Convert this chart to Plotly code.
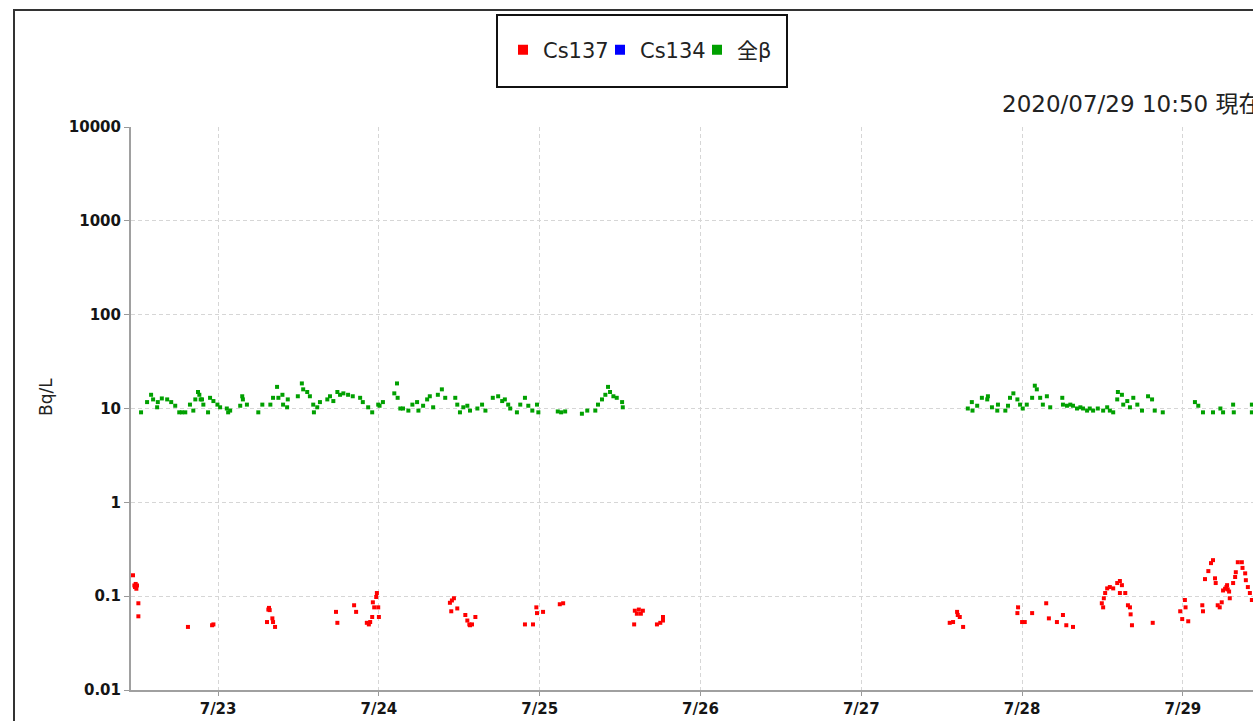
import pandas as pd
import plotly.graph_objects as go

base_time = pd.Timestamp("2020-07-22 00:00")

series_names = ["Cs137", "Cs134", "全β"]
series_colors = ["#ff0000", "#0000ff", "#00a000"]

# hours after 2020-07-22 00:00 and values (Bq/L)
cs137_hours = [11.3, 11.5, 11.6, 11.7, 11.8, 11.9, 12.1, 12.1, 19.5, 23.1, 23.3,
               31.3, 31.5, 31.6, 31.7, 32.1, 32.2, 32.5, 41.6, 41.8, 44.3, 44.6,
               46.2, 46.5, 46.7, 47.0, 47.1, 47.3, 47.6, 47.7, 47.9, 48.0,
               58.6, 58.8, 58.9, 59.2, 59.7, 60.9, 61.2, 61.5, 61.6, 61.9, 62.4,
               69.8, 71.0, 71.5, 71.6, 72.5, 75.0, 75.5,
               86.1, 86.2, 86.5, 86.8, 87.1, 87.4, 89.5, 90.0, 90.4, 90.4,
               133.2, 133.7, 134.3, 134.4, 134.7, 135.2,
               143.3, 143.4, 144.0, 144.4, 145.5, 147.6, 148.0, 149.2, 150.1, 150.6, 151.6,
               155.9, 156.1, 156.2, 156.4, 156.7, 157.1, 157.6, 158.2, 158.6, 158.9, 158.6,
               159.4, 159.8, 160.1, 160.2, 160.4, 163.5,
               167.6, 167.9, 168.3, 168.4, 168.8, 170.9, 171.0, 171.3, 171.8, 172.2, 172.5,
               172.8, 172.9, 173.2, 173.5, 173.8, 174.0, 174.3, 174.5, 174.6, 174.7, 174.9,
               175.0, 175.5, 175.8, 175.9, 176.2, 176.8, 176.9, 177.3, 177.4, 177.7, 178.0, 178.3]
cs137_values = [0.167, 0.13, 0.125, 0.135, 0.12, 0.13, 0.084, 0.061, 0.047, 0.049, 0.050,
                0.053, 0.072, 0.075, 0.071, 0.058, 0.053, 0.047, 0.068, 0.052, 0.080, 0.068,
                0.052, 0.050, 0.053, 0.060, 0.086, 0.076, 0.098, 0.108, 0.076, 0.060,
                0.085, 0.069, 0.09, 0.095, 0.074, 0.063, 0.055, 0.050, 0.049, 0.050, 0.060,
                0.050, 0.050, 0.076, 0.066, 0.068, 0.082, 0.084,
                0.050, 0.070, 0.065, 0.072, 0.065, 0.070, 0.050, 0.052, 0.055, 0.060,
                0.052, 0.053, 0.068, 0.063, 0.060, 0.047,
                0.066, 0.076, 0.053, 0.053, 0.066, 0.084, 0.058, 0.053, 0.063, 0.049, 0.047,
                0.084, 0.076, 0.095, 0.108, 0.121, 0.125, 0.121, 0.138, 0.145, 0.131, 0.108,
                0.108, 0.080, 0.076, 0.064, 0.049, 0.052,
                0.069, 0.057, 0.091, 0.076, 0.054, 0.080, 0.069, 0.152, 0.185, 0.225, 0.242,
                0.155, 0.138, 0.080, 0.076, 0.086, 0.115, 0.12, 0.125, 0.131, 0.118, 0.112,
                0.095, 0.138, 0.16, 0.18, 0.23, 0.23, 0.2, 0.175, 0.148, 0.125, 0.108, 0.091]

cs134_hours = []
cs134_values = []

beta_hours = [12.5, 13.4, 14.0, 14.3, 14.9, 15.0, 15.6, 16.4, 17.0, 17.6, 18.2, 18.6, 19.1,
              19.8, 20.3, 20.6, 21.0, 21.2, 21.4, 21.6, 21.8, 22.5, 22.8, 23.3, 23.9, 24.3,
              25.3, 25.5, 25.8, 27.3, 27.6, 27.7, 28.3, 30.0, 30.6, 31.8, 32.2, 32.8, 33.0,
              33.6, 33.7, 34.3, 34.4, 35.9, 36.5, 36.7, 37.3, 37.7, 38.2, 38.3, 38.8, 39.2,
              40.3, 40.7, 41.2, 41.8, 42.2, 42.7, 43.4, 44.1, 45.2, 45.6, 46.4, 47.0, 47.9,
              48.1, 48.6, 50.3, 50.7, 50.8, 51.2, 51.6, 52.4, 53.0, 53.7, 53.9, 54.6, 55.2,
              55.6, 56.1, 56.8, 57.4, 57.9, 59.4, 59.7, 60.1, 60.6, 61.2, 61.6, 62.7, 63.4,
              63.9, 65.0, 65.8, 66.4, 66.8, 67.3, 67.6, 68.6, 69.1, 69.8, 70.3, 70.9, 71.6,
              71.8, 74.7, 75.2, 75.8, 78.3, 79.1, 80.3, 80.7, 81.3, 81.8, 82.2, 82.5, 83.0,
              83.5, 84.3, 84.4,
              135.9, 136.5, 136.6, 137.3, 138.0, 138.8, 138.9, 139.5, 140.3, 140.4, 141.5,
              141.9, 142.2, 142.7, 143.3, 143.7, 144.1, 144.7, 145.5, 145.9, 146.2, 146.7,
              147.1, 147.7, 148.2, 150.0, 150.1, 150.7, 151.2, 151.6, 152.2, 152.7, 153.1,
              153.7, 154.1, 154.6, 155.3, 156.1, 156.7, 157.1, 157.6, 158.2, 158.3, 158.9,
              159.1, 159.7, 160.1, 160.6, 161.2, 161.9, 162.8, 163.4, 163.8, 165.0, 169.8,
              170.3, 171.0, 172.5, 173.6, 174.0, 175.5, 175.6, 178.3, 178.3]
beta_values = [9.1, 11.7, 14, 12.5, 10.3, 11.7, 12.8, 12.5, 11.7, 10.7, 9.1, 9.1, 9.1,
               11, 9.5, 12.5, 15, 14, 12.5, 12.5, 11, 9.1, 13, 12, 11, 10.3,
               10, 9.1, 9.5, 10.7, 13.5, 12.5, 11, 9.1, 11, 11, 13, 17, 13,
               14, 11, 10.3, 12.5, 13.5, 18.5, 16, 15, 13.5, 11, 9.1, 10.3, 11.7,
               12.5, 13.5, 12, 15, 14, 14.5, 14, 13.5, 13, 11.7, 10.3, 9.1, 11,
               10.7, 11.7, 14.5, 18.5, 13, 10, 10, 9.5, 11, 11.7, 9.5, 10.7, 12.5,
               13.5, 10.3, 14, 16, 13, 13, 11, 9.1, 10.3, 10.7, 9.5, 10, 11,
               9.5, 13, 13.5, 12, 12.5, 11, 10, 9.1, 11, 13, 10.7, 9.5, 11,
               9.1, 9.3, 9.1, 9.3, 8.8, 9.5, 9.5, 11, 12.5, 14, 17, 15, 13.5,
               13, 11.7, 10.3,
               10, 11.7, 9.5, 10.7, 13, 12.5, 13.5, 10.3, 9.5, 11, 9.5,
               10.7, 13, 14.5, 12.5, 11, 10, 11, 13, 17.5, 16, 13,
               11, 13.5, 10.3, 13, 11, 10.7, 11, 10.7, 10, 10.3, 10,
               9.5, 10, 9.5, 10, 9.5, 10.3, 9.5, 9.1, 12.5, 15, 14,
               11, 12, 10.3, 13, 11, 9.5, 13.5, 12.5, 9.5, 9.1, 11.7,
               10.7, 9.1, 9.1, 10, 9.1, 11, 9.1, 11, 9.1]

day_ticks = ["2020-07-23", "2020-07-24", "2020-07-25", "2020-07-26",
             "2020-07-27", "2020-07-28", "2020-07-29"]
day_labels = ["7/23", "7/24", "7/25", "7/26", "7/27", "7/28", "7/29"]
y_ticks = [0.01, 0.1, 1, 10, 100, 1000, 10000]
y_labels = ["0.01", "0.1", "1", "10", "100", "1000", "10000"]
x_start = "2020-07-22 11:00"
x_end = "2020-07-29 10:28"
y_title = "Bq/L"
stamp_text = "2020/07/29 10:50 現在"

FONT = "DejaVu Sans, Noto Sans CJK JP, sans-serif"
TXT = "#151515"


def to_time(hours):
    return base_time + pd.to_timedelta(hours, unit="h")


fig = go.Figure()
data_sets = [(cs137_hours, cs137_values), (cs134_hours, cs134_values), (beta_hours, beta_values)]
for name, color, (hrs, vals) in zip(series_names, series_colors, data_sets):
    fig.add_trace(go.Scatter(
        x=to_time(hrs), y=vals, mode="markers", name=name, showlegend=False,
        marker=dict(symbol="square", size=4, color=color, line=dict(width=0)),
        hoverinfo="x+y",
    ))
# legend entries
for name, color in zip(series_names, series_colors):
    fig.add_trace(go.Scatter(
        x=[None], y=[None], mode="markers", name=name, showlegend=True,
        marker=dict(symbol="square", size=10, color=color, line=dict(width=0)),
    ))

L, R, T, B = 131, 1253, 127, 690
W, H = 1253, 721


def px(xp):
    return (xp - L) / (R - L)


def py(yp):
    return (B - yp) / (B - T)


tick_font = dict(family=FONT, size=15, color=TXT, weight="bold")

fig.update_layout(
    width=W, height=H,
    margin=dict(l=L, r=W - R, t=T, b=H - B),
    paper_bgcolor="white", plot_bgcolor="white",
    font=dict(family=FONT, color=TXT, size=16),
    legend=dict(
        orientation="h", x=px(503), xanchor="left", y=py(50), yanchor="middle",
        font=dict(family=FONT, size=21, color="#222222"),
        bgcolor="rgba(0,0,0,0)", borderwidth=0, itemclick=False,
        entrywidth=52,
    ),
    xaxis=dict(
        type="date", range=[x_start, x_end],
        tickmode="array", tickvals=day_ticks, ticktext=day_labels,
        ticks="outside", ticklen=4, tickcolor="#999999", tickwidth=1,
        showline=True, linecolor="#a0a0a0", linewidth=2,
        showgrid=True, gridcolor="#d6d6d6", griddash="4px,3px", gridwidth=1,
        zeroline=False, tickfont=tick_font,
    ),
    yaxis=dict(
        type="log", range=[-2, 4],
        tickmode="array", tickvals=y_ticks, ticktext=y_labels,
        ticks="outside", ticklen=5, tickcolor="#999999", tickwidth=1,
        showline=True, linecolor="#a0a0a0", linewidth=2,
        showgrid=True, gridcolor="#d6d6d6", griddash="4px,3px", gridwidth=1,
        zeroline=False, tickfont=tick_font,
    ),
    shapes=[
        dict(type="rect", xref="paper", yref="paper",
             x0=px(497), x1=px(787), y0=py(87), y1=py(15),
             line=dict(color="#111111", width=2), fillcolor="rgba(0,0,0,0)"),
        dict(type="rect", xref="paper", yref="paper",
             x0=px(14), x1=px(1300), y0=py(760), y1=py(10),
             line=dict(color="#333333", width=2), fillcolor="rgba(0,0,0,0)"),
    ],
    annotations=[
        dict(text=stamp_text, xref="paper", yref="paper", x=px(1000), y=py(104),
             xanchor="left", yanchor="middle", showarrow=False,
             font=dict(family=FONT, size=23, color="#222222")),
        dict(text=y_title, xref="paper", yref="paper", x=px(46), y=py(397),
             xanchor="center", yanchor="middle", showarrow=False, textangle=-90,
             font=dict(family=FONT, size=17, color="#222222")),
    ],
)

fig.write_html(
    "out.html",
    config={"displayModeBar": False},
    post_script="document.body.style.margin='0';document.body.style.overflow='hidden';",
)
